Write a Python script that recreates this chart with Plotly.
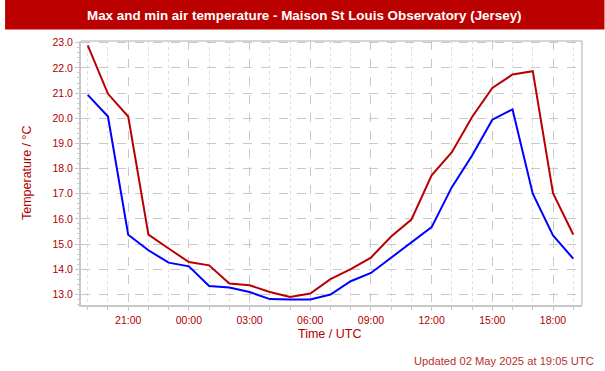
import plotly.graph_objects as go

times = [
    "2025-05-01 19:00", "2025-05-01 20:00", "2025-05-01 21:00", "2025-05-01 22:00",
    "2025-05-01 23:00", "2025-05-02 00:00", "2025-05-02 01:00", "2025-05-02 02:00",
    "2025-05-02 03:00", "2025-05-02 04:00", "2025-05-02 05:00", "2025-05-02 06:00",
    "2025-05-02 07:00", "2025-05-02 08:00", "2025-05-02 09:00", "2025-05-02 10:00",
    "2025-05-02 11:00", "2025-05-02 12:00", "2025-05-02 13:00", "2025-05-02 14:00",
    "2025-05-02 15:00", "2025-05-02 16:00", "2025-05-02 17:00", "2025-05-02 18:00",
    "2025-05-02 19:00",
]
max_temp = [22.9, 20.97, 20.07, 15.37, 14.82, 14.28, 14.15, 13.43, 13.36, 13.09,
            12.89, 13.03, 13.6, 14.0, 14.46, 15.3, 15.97, 17.73, 18.65, 20.05,
            21.2, 21.74, 21.87, 17.02, 15.38]
min_temp = [20.93, 20.07, 15.37, 14.75, 14.26, 14.11, 13.33, 13.27, 13.09, 12.81,
            12.79, 12.79, 12.99, 13.52, 13.85, 14.46, 15.08, 15.67, 17.26, 18.52,
            19.94, 20.35, 17.0, 15.34, 14.42]
y_ticks = [13.0, 14.0, 15.0, 16.0, 17.0, 18.0, 19.0, 20.0, 21.0, 22.0, 23.0]

RED = "#b80000"
TXT = "#b00000"
GRID = "#c8c8c8"
FONT = "Liberation Sans, Arial, sans-serif"

W, H = 605, 371
L, R, T, B = 81, 22.5, 41, 66
PW = W - L - R
PH = H - T - B


def px(x):
    return (x - L) / PW


def py(y):
    return (H - B - y) / PH


fig = go.Figure()
fig.add_trace(go.Scatter(x=times, y=max_temp, mode="lines",
                         line=dict(color=RED, width=2), name="Max"))
fig.add_trace(go.Scatter(x=times, y=min_temp, mode="lines",
                         line=dict(color="#0000ff", width=2), name="Min"))

fig.update_layout(
    width=W, height=H,
    margin=dict(l=L, r=R, t=T, b=B, pad=0),
    paper_bgcolor="white", plot_bgcolor="white",
    showlegend=False,
    font=dict(family=FONT, size=10.5, color=TXT),
    xaxis=dict(
        type="date",
        range=["2025-05-01 18:40", "2025-05-02 19:26"],
        tick0="2025-05-01 21:00", dtick=3 * 3600000,
        tickformat="%H:%M",
        showgrid=True, gridcolor=GRID, griddash="dash", gridwidth=1,
        showline=True, linecolor=GRID, linewidth=2,
        ticks="outside", ticklen=4, tickcolor=GRID, tickwidth=1,
        tickfont=dict(size=10.5, color=TXT, family=FONT),
        minor=dict(dtick=3600000, tick0="2025-05-01 19:00", showgrid=True,
                   gridcolor="#dedede", griddash="dot", gridwidth=1,
                   ticks="outside", ticklen=3, tickcolor=GRID),
        zeroline=False, fixedrange=True,
    ),
    yaxis=dict(
        range=[12.575, 23.07],
        tickvals=y_ticks, ticktext=[f"{v:.1f}" for v in y_ticks],
        showgrid=True, gridcolor=GRID, griddash="dash", gridwidth=1,
        showline=True, linecolor=GRID, linewidth=2,
        ticks="outside", ticklen=4, tickcolor=GRID, tickwidth=1,
        tickfont=dict(size=10.5, color=TXT, family=FONT),
        minor=dict(dtick=0.2, ticks="outside", ticklen=2, tickcolor=GRID),
        zeroline=False, fixedrange=True,
    ),
    shapes=[
        dict(type="rect", xref="paper", yref="paper",
             x0=px(5), x1=px(605), y0=py(29.5), y1=py(-1),
             fillcolor="#bb0000", line=dict(width=0), layer="above"),
        dict(type="line", xref="paper", yref="paper", x0=0, x1=1, y0=1, y1=1,
             line=dict(color=GRID, width=1.5)),
        dict(type="line", xref="paper", yref="paper", x0=1, x1=1, y0=0, y1=1,
             line=dict(color=GRID, width=1.5)),
    ],
    annotations=[
        dict(text="<b>Max and min air temperature - Maison St Louis Observatory (Jersey)</b>",
             xref="paper", yref="paper", x=px(305), y=py(15),
             xanchor="center", yanchor="middle", showarrow=False,
             font=dict(family=FONT, size=13.4, color="white")),
        dict(text="Time / UTC", xref="paper", yref="paper", x=px(330), y=py(333.5),
             xanchor="center", yanchor="middle", showarrow=False,
             font=dict(family=FONT, size=12.5, color=TXT)),
        dict(text="Temperature / °C", xref="paper", yref="paper", x=px(27), y=py(173),
             xanchor="center", yanchor="middle", showarrow=False, textangle=-90,
             font=dict(family=FONT, size=12.5, color=TXT)),
        dict(text="Updated 02 May 2025 at 19:05 UTC", xref="paper", yref="paper",
             x=px(597), y=py(360.5), xanchor="right", yanchor="middle", showarrow=False,
             font=dict(family=FONT, size=11.2, color="#b83030")),
    ],
)

fig.write_html("out.html", config={"displayModeBar": False},
               post_script="document.body.style.margin='0';document.body.style.overflow='hidden';")
